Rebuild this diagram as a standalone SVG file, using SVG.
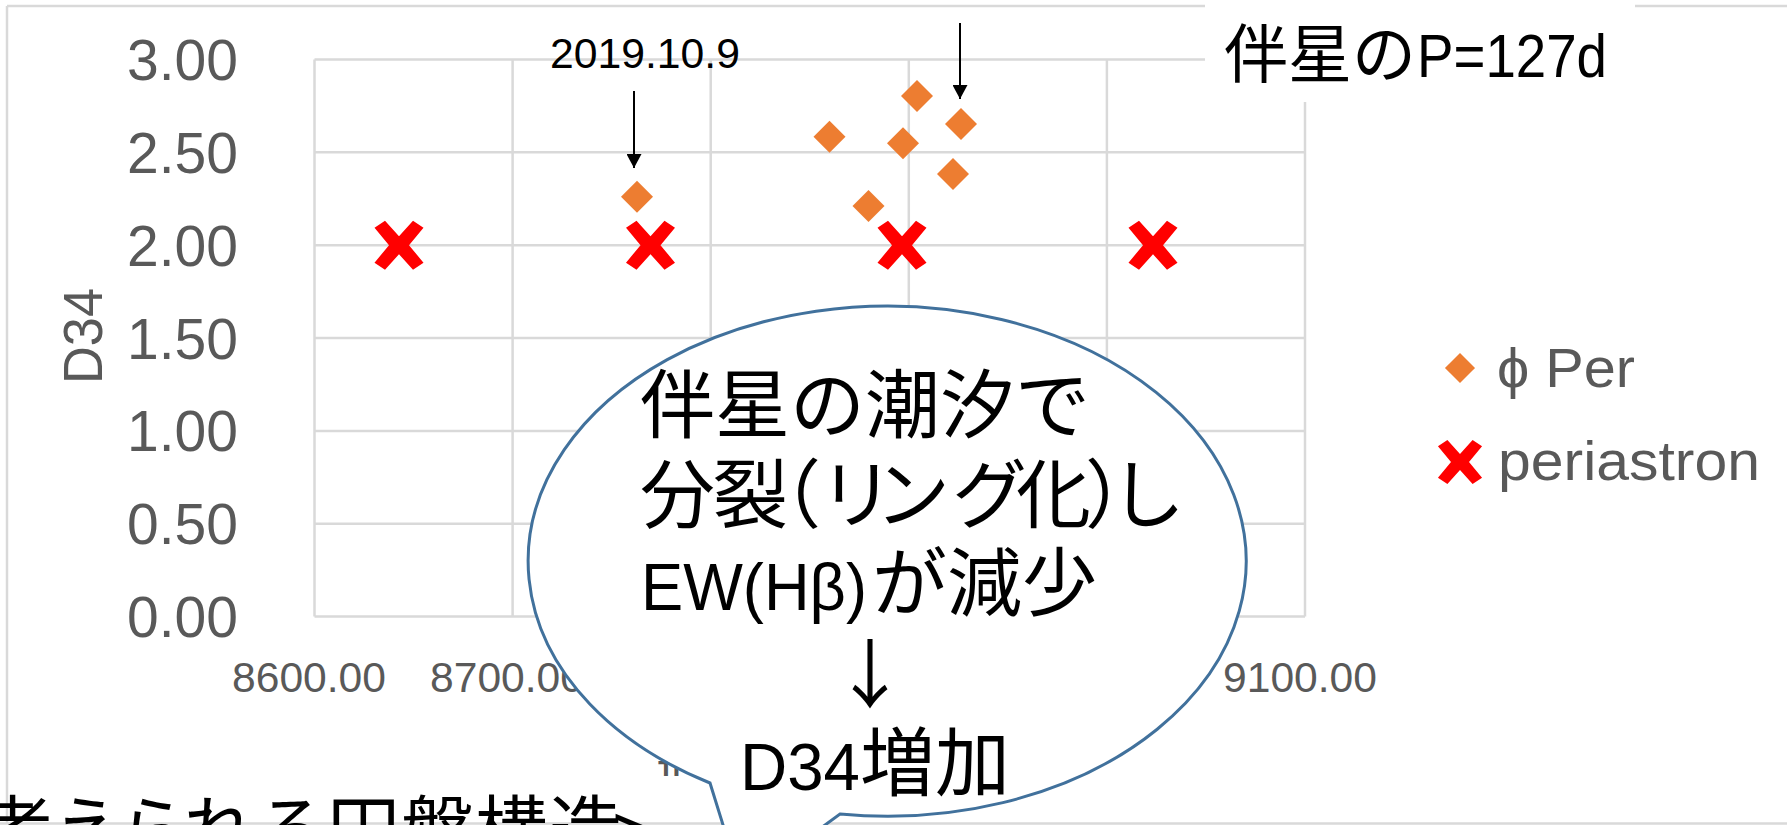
<svg xmlns="http://www.w3.org/2000/svg" width="1787" height="825" viewBox="0 0 1787 825">
<style>
.grid{stroke:#D9D9D9;stroke-width:2.5;fill:none}
.ax{font-family:"Liberation Sans",sans-serif;fill:#595959}
.jp{font-family:"Liberation Sans","Noto Sans CJK JP",sans-serif;fill:#000}
.dia{fill:#ED7D31}
.xm{fill:#FF0000}
.arr{stroke:#000;stroke-width:2;fill:none}
</style>
<defs>
<path id="dia" d="M0,-16 L16,0 L0,16 L-16,0 Z"/>
<path id="xm" d="M-24.5,-17.5 L-14,-24.5 L0,-9 L14,-24.5 L24.5,-17.5 L10,0 L24.5,17.5 L14,24.5 L0,9 L-14,24.5 L-24.5,17.5 L-10,0 Z"/>
<marker id="ah" viewBox="0 0 14 15" refX="14" refY="7.5" markerWidth="14" markerHeight="15" markerUnits="userSpaceOnUse" orient="auto">
<path d="M0,0 L14,7.5 L0,15 Z" fill="#000"/>
</marker>
</defs>
<rect width="1787" height="825" fill="#fff"/>
<g id="chart">
<path class="grid" d="M7,6 H1800 M7,6 V823"/>
<path class="grid" d="M314.5,59.5 H1305 M314.5,152.35 H1305 M314.5,245.2 H1305 M314.5,338.05 H1305 M314.5,430.9 H1305 M314.5,523.75 H1305 M314.5,616.6 H1305 M314.5,59.5 V616.6 M512.6,59.5 V616.6 M710.7,59.5 V616.6 M908.8,59.5 V616.6 M1106.9,59.5 V616.6 M1305,59.5 V616.6"/>
<g id="yticks" class="ax" font-size="57" text-anchor="end">
<text x="238" y="80">3.00</text>
<text x="238" y="172.8">2.50</text>
<text x="238" y="265.7">2.00</text>
<text x="238" y="358.5">1.50</text>
<text x="238" y="451.4">1.00</text>
<text x="238" y="544.2">0.50</text>
<text x="238" y="637.1">0.00</text>
</g>
<g id="xticks" class="ax" font-size="42" text-anchor="middle">
<text x="309" y="692" textLength="154" lengthAdjust="spacingAndGlyphs">8600.00</text>
<text x="507" y="692" textLength="154" lengthAdjust="spacingAndGlyphs">8700.00</text>
<text x="705" y="692" textLength="154" lengthAdjust="spacingAndGlyphs">8800.00</text>
<text x="903" y="692" textLength="154" lengthAdjust="spacingAndGlyphs">8900.00</text>
<text x="1101" y="692" textLength="154" lengthAdjust="spacingAndGlyphs">9000.00</text>
<text x="1300" y="692" textLength="154" lengthAdjust="spacingAndGlyphs">9100.00</text>
</g>
<text id="ytitle" class="ax" font-size="56" text-anchor="middle" transform="translate(102,336) rotate(-90)" textLength="96" lengthAdjust="spacingAndGlyphs">D34</text>
<text id="xtitle" class="ax" font-size="42" x="650" y="790">JD</text>
<g id="series-phiper" class="dia">
<use href="#dia" transform="translate(637,196.7)"/>
<use href="#dia" transform="translate(829.5,136.7)"/>
<use href="#dia" transform="translate(868.5,206)"/>
<use href="#dia" transform="translate(903,143.3)"/>
<use href="#dia" transform="translate(917,96)"/>
<use href="#dia" transform="translate(961,124)"/>
<use href="#dia" transform="translate(953,174)"/>
</g>
<g id="series-periastron" class="xm">
<use href="#xm" transform="translate(399,245.2)"/>
<use href="#xm" transform="translate(650.5,245.2)"/>
<use href="#xm" transform="translate(902,245.2)"/>
<use href="#xm" transform="translate(1153,245.2)"/>
</g>
<g id="legend">
<use href="#dia" class="dia" transform="translate(1460,368) scale(0.94)"/>
<text class="ax" font-size="56" x="1497" y="387" textLength="138" lengthAdjust="spacingAndGlyphs">ϕ Per</text>
<use href="#xm" class="xm" transform="translate(1460,462) scale(0.9)"/>
<text class="ax" font-size="56" x="1498" y="480" textLength="262" lengthAdjust="spacingAndGlyphs">periastron</text>
</g>
</g>
<g id="label-date">
<text class="jp" font-size="42" x="550" y="68" textLength="190" lengthAdjust="spacingAndGlyphs">2019.10.9</text>
</g>
<g id="connectors">
<line class="arr" x1="634" y1="91" x2="634" y2="168" marker-end="url(#ah)"/>
<line class="arr" x1="960" y1="23" x2="960" y2="99" marker-end="url(#ah)"/>
</g>
<g id="period-label">
<rect x="1205" y="0" width="430" height="102" fill="#fff"/>
<text class="jp" y="77"><tspan x="1224" font-size="64">伴星の</tspan><tspan x="1417" font-size="61" textLength="190" lengthAdjust="spacingAndGlyphs">P=127d</tspan></text>
</g>
<g id="bottom-label">
<rect x="12" y="776" width="700" height="45" fill="#fff"/>
<line x1="0" y1="823.5" x2="1787" y2="823.5" stroke="#D9D9D9" stroke-width="2.5"/>
<text class="jp" font-size="73" y="856" x="-19 52 118 183 255 327 401 475 549 612">考えられる円盤構造&gt;</text>
</g>
<g id="callout">
<path d="M840,814 A359,255 0 1 0 710,783 L742,886 Z" fill="#fff" stroke="#41719C" stroke-width="3"/>
<text class="jp" font-size="75" x="640" y="432">伴星の潮汐で</text>
<text class="jp" font-size="75" y="522" x="640 713 746 819 875 952 1016 1085 1110">分裂（リング化）し</text>
<text class="jp" y="610"><tspan x="641" font-size="67" textLength="226" lengthAdjust="spacingAndGlyphs">EW(Hβ)</tspan><tspan x="872" font-size="75">が減少</tspan></text>
<text font-family="'Noto Sans CJK JP',sans-serif" font-size="75" x="870" y="702" text-anchor="middle">↓</text>
<text class="jp" y="790"><tspan x="740" font-size="66" textLength="120" lengthAdjust="spacingAndGlyphs">D34</tspan><tspan x="860" font-size="75">増加</tspan></text>
</g>
</svg>
